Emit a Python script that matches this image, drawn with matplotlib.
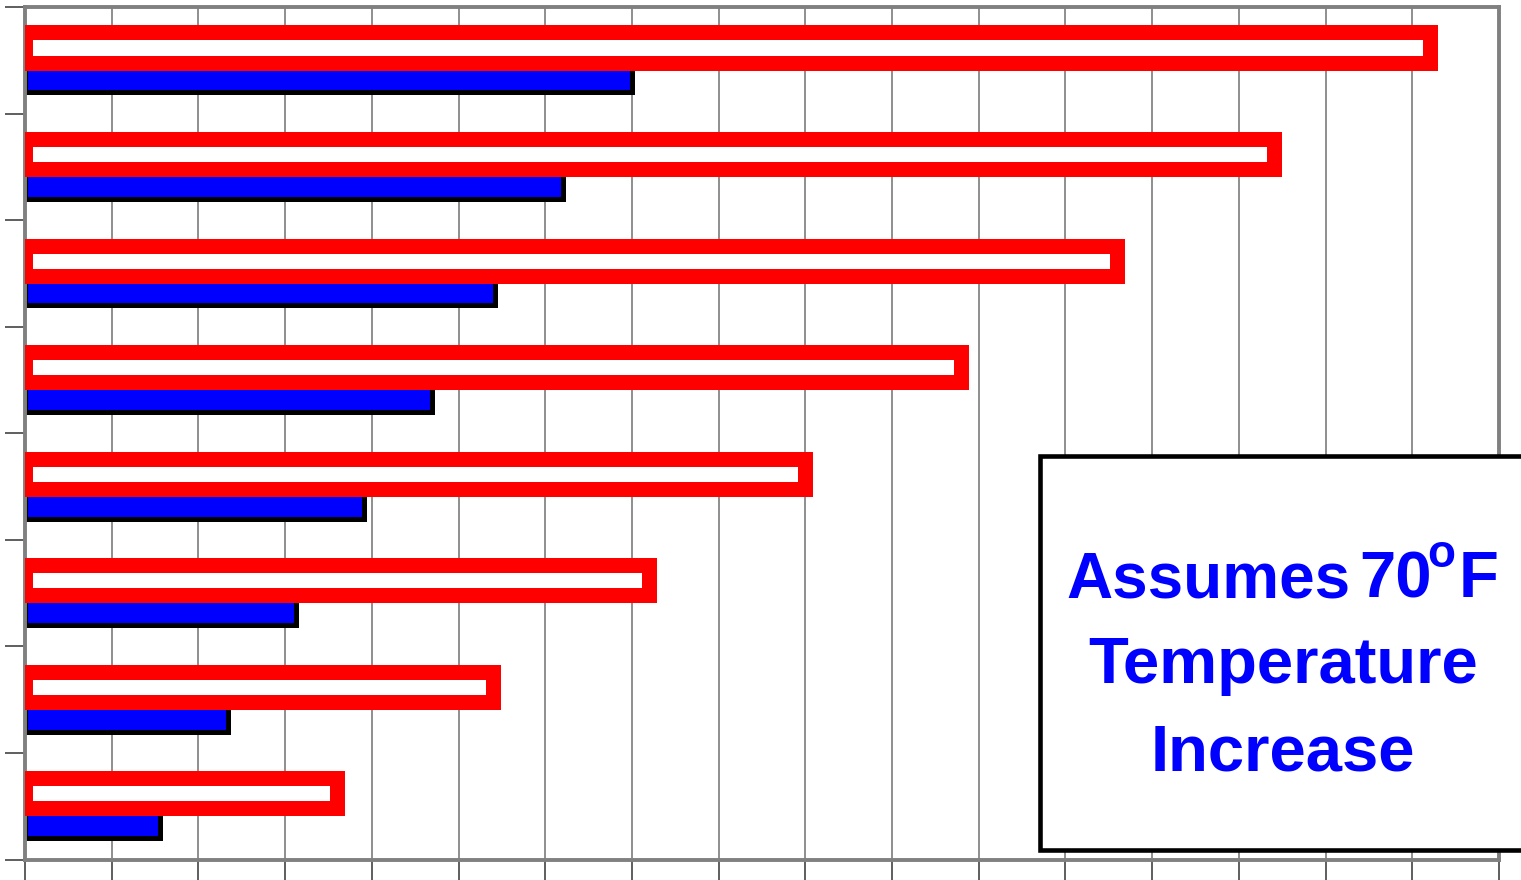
import matplotlib
matplotlib.use('Agg')
import matplotlib.pyplot as plt
from matplotlib.patches import Rectangle
import numpy as np

# values (axis 0..170, one gridline every 10)
red_vals = [162, 144, 126, 108, 90, 72, 54, 36]
blue_vals = [70, 62, 54.2, 46.9, 39.1, 31.3, 23.4, 15.6]
note_lines = ['Temperature', 'Increase']

fig = plt.figure(figsize=(15.21, 8.8), dpi=100)
ax = fig.add_axes([25/1521, 1-859.5/880, (1499-25)/1521, (859.5-7)/880])

pos = np.arange(len(red_vals)) + 0.5
h = 0.282
ax.barh(pos + 0.16, blue_vals, height=h, color='#0000ff', edgecolor='black', linewidth=3.6, zorder=2)
ax.barh(pos - 0.12, red_vals, height=h, color='white', edgecolor='#ff0000', linewidth=10.8, zorder=3)

ax.set_xlim(0, 170)
ax.set_ylim(8, 0)
ax.set_xticks(np.arange(0, 171, 10))
ax.set_yticks(np.arange(0, 9))
ax.set_xticklabels([])
ax.set_yticklabels([])
ax.tick_params(axis='both', direction='out', length=14.4, width=1.1, color='#333333')
ax.xaxis.grid(True, color='#707070', linewidth=1.1, zorder=1)
ax.set_axisbelow(True)
for s in ax.spines.values():
    s.set_color('#808080')
    s.set_linewidth(2.8)

fig.add_artist(Rectangle((1039.5/1521, 1-849.5/880), 0.4, (849.5-456)/880,
                         transform=fig.transFigure, facecolor='white',
                         edgecolor='black', linewidth=3.3))

kw = dict(va='baseline', color='#0000ff', fontweight='bold', family='Liberation Sans')
# first line built from pieces so the raised "o" sits like the original
fig.text(1208/1521, 1-597/880, 'Assumes', ha='center', fontsize=46, **kw)
fig.text(1359/1521, 1-597/880, '70', ha='left', fontsize=47, **kw)
fig.text(1427/1521, 1-567/880, 'o', ha='left', fontsize=33, **kw)
fig.text(1459/1521, 1-597/880, 'F', ha='left', fontsize=47, **kw)
for txt, yb in zip(note_lines, [683, 770]):
    fig.text(1283/1521, 1-yb/880, txt, ha='center', fontsize=47, **kw)

plt.savefig('out.png', dpi=100)
